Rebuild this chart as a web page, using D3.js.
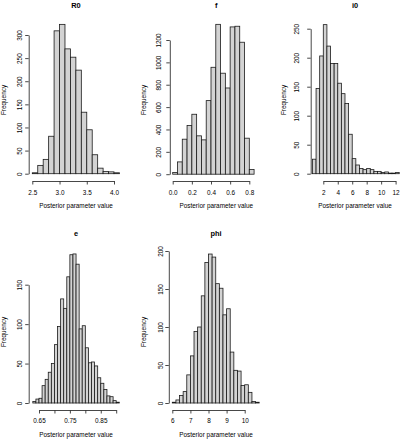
<!DOCTYPE html>
<html><head><meta charset="utf-8">
<script src="https://cdn.jsdelivr.net/npm/d3@7"></script>
<style>
body{margin:0;background:#fff}
svg{display:block}
text{font-family:"Liberation Sans",Arial,Helvetica,sans-serif;fill:#000}
</style>
</head><body>
<svg id="chart" width="401" height="440"></svg>
<script>
// ---------------- DATA ----------------
const titles = ["R0", "f", "i0", "e", "phi"];
const xLabel = "Posterior parameter value";
const yLabel = "Frequency";

const r0Breaks = [2.5,2.6,2.7,2.8,2.9,3.0,3.1,3.2,3.3,3.4,3.5,3.6,3.7,3.8,3.9,4.0,4.1];
const r0Counts = [2,18,31,81,309,323,270,252,224,133,95,41,12,5,4,2];
const r0XTicks = [2.5,3.0,3.5,4.0];
const r0XTickLabels = ["2.5","3.0","3.5","4.0"];
const r0YTicks = [0,50,100,150,200,250,300];

const fBreaks = [0,0.05,0.1,0.15,0.2,0.25,0.3,0.35,0.4,0.45,0.5,0.55,0.6,0.65,0.7,0.75,0.8,0.85];
const fCounts = [15,110,313,435,536,343,307,658,956,1340,903,771,1317,1323,1180,322,42];
const fXTicks = [0,0.2,0.4,0.6,0.8];
const fXTickLabels = ["0.0","0.2","0.4","0.6","0.8"];
const fYTicks = [0,200,400,600,800,1000,1200];

const i0Breaks = [0.5,1,1.5,2,2.5,3,3.5,4,4.5,5,5.5,6,6.5,7,7.5,8,8.5,9,9.5,10,10.5,11,11.5,12,12.5];
const i0Counts = [25,147,203,257,220,190,190,156,138,121,68,26,15,9,7,9,7,4,4,2,3,1,1,2];
const i0XTicks = [2,4,6,8,10,12];
const i0XTickLabels = ["2","4","6","8","10","12"];
const i0YTicks = [0,50,100,150,200,250];

const eBreaks = [0.63,0.64,0.65,0.66,0.67,0.68,0.69,0.70,0.71,0.72,0.73,0.74,0.75,0.76,0.77,0.78,0.79,0.80,0.81,0.82,0.83,0.84,0.85,0.86,0.87,0.88,0.89,0.90,0.91];
const eCounts = [2,5,6,22,30,39,50,74,97,132,120,160,188,189,176,94,98,70,51,52,47,32,25,17,9,8,3,1];
const eXTicks = [0.65,0.70,0.75,0.80,0.85,0.90];
const eXTickLabels = ["0.65","","0.75","","0.85",""];
const eYTicks = [0,50,100,150];

const phiBreaks = [6.0,6.2,6.4,6.6,6.8,7.0,7.2,7.4,7.6,7.8,8.0,8.2,8.4,8.6,8.8,9.0,9.2,9.4,9.6,9.8,10.0,10.2,10.4,10.6,10.8];
const phiCounts = [1,4,10,15,37,62,94,100,141,185,196,192,157,151,116,124,67,43,42,23,24,14,2,1];
const phiXTicks = [6,7,8,9,10];
const phiXTickLabels = ["6","7","8","9","10"];
const phiYTicks = [0,50,100,150,200];

// ---------------- LAYOUT ----------------
const rowTop = {xAxisY:181, tickLabY:194.5, xLabY:208, titleY:8, freqY:100};
const rowBot = {xAxisY:410, tickLabY:422.6, xLabY:437.3, titleY:236, freqY:332};
const panels = [
  {title:titles[0], breaks:r0Breaks, counts:r0Counts, xt:r0XTicks, xtl:r0XTickLabels, yt:r0YTicks,
   xr:[32.3,114], yr:[173.7,35], yAxisX:28.7, yLabX:22.2, freqX:5.8, cx:76, row:rowTop},
  {title:titles[1], breaks:fBreaks, counts:fCounts, xt:fXTicks, xtl:fXTickLabels, yt:fYTicks,
   xr:[172.7,249.3], yr:[174.2,40], yAxisX:169.8, yLabX:161, freqX:145.6, cx:216.3, row:rowTop},
  {title:titles[2], breaks:i0Breaks, counts:i0Counts, xt:i0XTicks, xtl:i0XTickLabels, yt:i0YTicks,
   xr:[323.3,395.6], yr:[173.7,28.7], yAxisX:310.7, yLabX:298.8, freqX:285.6, cx:355, row:rowTop},
  {title:titles[3], breaks:eBreaks, counts:eCounts, xt:eXTicks, xtl:eXTickLabels, yt:eYTicks,
   xr:[39,116.2], yr:[403,284.7], yAxisX:28.7, yLabX:22.2, freqX:5.8, cx:76, row:rowBot},
  {title:titles[4], breaks:phiBreaks, counts:phiCounts, xt:phiXTicks, xtl:phiXTickLabels, yt:phiYTicks,
   xr:[172.3,244.7], yr:[403,251], yAxisX:168.8, yLabX:162.5, freqX:145.6, cx:216, row:rowBot}
];

const FS = 6.4;
const svg = d3.select("#chart");

panels.forEach(p => {
  const g = svg.append("g");
  const x = d3.scaleLinear().domain([p.xt[0], p.xt[p.xt.length-1]]).range(p.xr);
  const y = d3.scaleLinear().domain([0, p.yt[p.yt.length-1]]).range(p.yr);

  // bars
  const bins = p.counts.map((c,i) => ({x0:p.breaks[i], x1:p.breaks[i+1], c}));
  g.selectAll("rect.bar").data(bins).join("rect")
    .attr("class","bar")
    .attr("x", d => x(d.x0))
    .attr("width", d => x(d.x1) - x(d.x0))
    .attr("y", d => y(d.c))
    .attr("height", d => y(0) - y(d.c))
    .attr("fill", "#d3d3d3")
    .attr("stroke", "#1a1a1a")
    .attr("stroke-width", 0.8);

  // x axis
  const xa = g.append("g")
    .attr("transform", `translate(0,${p.row.xAxisY})`)
    .call(d3.axisBottom(x).tickValues(p.xt).tickSize(3.5).tickSizeOuter(0)
      .tickFormat((d,i) => p.xtl[i]));
  xa.attr("font-size", null).attr("font-family", null);
  xa.selectAll("path,line").attr("stroke", "#333").attr("stroke-width", 0.9);
  xa.selectAll("text")
    .attr("y", p.row.tickLabY - p.row.xAxisY)
    .attr("dy", null)
    .attr("font-size", FS)
    .attr("fill", "#000");

  // y axis
  const ya = g.append("g")
    .attr("transform", `translate(${p.yAxisX},0)`)
    .call(d3.axisLeft(y).tickValues(p.yt).tickSize(3.5).tickSizeOuter(0)
      .tickFormat(d3.format("d")));
  ya.attr("font-size", null).attr("font-family", null);
  ya.selectAll("path,line").attr("stroke", "#333").attr("stroke-width", 0.9);
  ya.selectAll("text")
    .attr("x", null).attr("dy", null)
    .attr("text-anchor", "middle")
    .attr("transform", `translate(${p.yLabX - p.yAxisX},0) rotate(-90)`)
    .attr("font-size", FS)
    .attr("fill", "#000");

  // title
  g.append("text").attr("x", p.cx).attr("y", p.row.titleY)
    .attr("text-anchor", "middle").attr("font-weight", "bold")
    .attr("font-size", 7.4).text(p.title);

  // x label
  g.append("text").attr("x", p.cx).attr("y", p.row.xLabY)
    .attr("text-anchor", "middle").attr("font-size", FS).text(xLabel);

  // y label
  g.append("text")
    .attr("transform", `translate(${p.freqX},${p.row.freqY}) rotate(-90)`)
    .attr("text-anchor", "middle").attr("font-size", FS).text(yLabel);
});
</script>
</body></html>
